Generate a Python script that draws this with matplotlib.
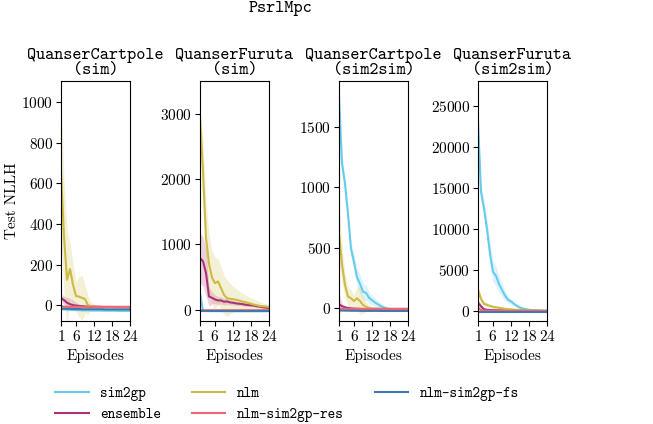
import numpy as np
import matplotlib
matplotlib.use("Agg")
import matplotlib.pyplot as plt

plt.rcParams["font.family"] = ["cmr10", "DejaVu Serif"]
plt.rcParams["axes.formatter.use_mathtext"] = True
plt.rcParams["mathtext.fontset"] = "cm"

episodes = np.arange(1, 25)
xticks = [1, 6, 12, 18, 24]
series_names = ["sim2gp", "ensemble", "nlm", "nlm-sim2gp-res", "nlm-sim2gp-fs"]
series_colors = ["#66CCEE", "#AA3377", "#CCBB44", "#EE6677", "#4477AA"]
panel_titles = ["QuanserCartpole\n(sim)", "QuanserFuruta\n(sim)",
                "QuanserCartpole\n(sim2sim)", "QuanserFuruta\n(sim2sim)"]

# ---- QuanserCartpole (sim)
cp_sim_sim2gp = [-20, -21, -22, -23, -23, -24, -24, -25, -25, -25, -26, -26, -26, -26, -27, -27, -27, -27, -27, -28, -28, -28, -28, -28]
cp_sim_sim2gp_sd = [5] * 24
cp_sim_ensemble = [35, 25, 12, 5, 0, -2, -4, -5, -6, -7, -7, -8, -8, -8, -9, -9, -9, -9, -10, -10, -10, -10, -10, -10]
cp_sim_ensemble_sd = [20, 20, 25, 30, 25, 15, 10, 5, 4, 3, 3, 3, 3, 3, 3, 3, 3, 3, 3, 3, 3, 3, 3, 3]
cp_sim_nlm = [660, 340, 125, 178, 100, 45, 42, 36, 30, 0, -5, -7, -8, -9, -9, -10, -10, -10, -10, -10, -10, -10, -10, -10]
cp_sim_nlm_sd = [340, 280, 250, 130, 110, 70, 100, 110, 70, 45, 20, 10, 6, 5, 4, 4, 3, 3, 3, 3, 3, 3, 3, 3]
cp_sim_res = [-6, -7, -8, -8, -8, -8, -8, -8, -8, -8, -8, -8, -8, -8, -8, -8, -8, -8, -8, -8, -8, -8, -8, -8]
cp_sim_res_sd = [3] * 24
cp_sim_fs = [-16, -17, -18, -18, -19, -19, -19, -20, -20, -20, -20, -20, -20, -20, -20, -21, -21, -21, -21, -21, -21, -21, -21, -21]
cp_sim_fs_sd = [2] * 24

# ---- QuanserFuruta (sim)
fu_sim_sim2gp = [250, -20, -22, -23, -23, -24, -24, -24, -24, -25, -25, -25, -25, -25, -25, -25, -25, -25, -25, -25, -25, -25, -25, -25]
fu_sim_sim2gp_sd = [80, 5, 5, 5, 5, 5, 5, 5, 5, 5, 5, 5, 5, 5, 5, 5, 5, 5, 5, 5, 5, 5, 5, 5]
fu_sim_ensemble = [790, 740, 560, 200, 180, 155, 140, 140, 120, 125, 110, 105, 95, 90, 85, 75, 70, 65, 60, 50, 45, 35, 30, 25]
fu_sim_ensemble_sd = [380, 380, 350, 150, 90, 70, 60, 55, 50, 45, 40, 35, 30, 30, 25, 25, 20, 20, 20, 15, 15, 15, 15, 15]
fu_sim_nlm = [2950, 2100, 1100, 700, 490, 405, 430, 330, 225, 175, 165, 160, 150, 140, 125, 115, 100, 90, 75, 65, 55, 50, 45, 40]
fu_sim_nlm_sd = [100, 500, 550, 450, 420, 400, 350, 330, 300, 280, 240, 200, 170, 150, 130, 120, 100, 90, 80, 70, 60, 50, 45, 40]
fu_sim_res = [-8, -9, -10, -10, -10, -10, -10, -10, -10, -10, -10, -10, -10, -10, -10, -10, -10, -10, -10, -10, -10, -10, -10, -10]
fu_sim_res_sd = [3] * 24
fu_sim_fs = [-25, -25, -25, -25, -25, -25, -25, -25, -25, -25, -25, -25, -25, -25, -25, -25, -25, -25, -25, -25, -25, -25, -25, -25]
fu_sim_fs_sd = [3] * 24

# ---- QuanserCartpole (sim2sim)
cp_s2s_sim2gp = [1750, 1200, 1030, 780, 490, 380, 255, 200, 135, 125, 85, 65, 45, 30, 15, 3, -5, -8, -10, -10, -12, -12, -12, -12]
cp_s2s_sim2gp_sd = [60, 60, 60, 60, 60, 60, 70, 80, 70, 60, 50, 40, 35, 30, 25, 20, 15, 10, 8, 6, 5, 5, 5, 5]
cp_s2s_ensemble = [30, 15, 5, 0, -3, -5, -6, -7, -8, -8, -8, -8, -8, -8, -8, -8, -8, -8, -8, -8, -8, -8, -8, -8]
cp_s2s_ensemble_sd = [90, 20, 15, 10, 5, 4, 3, 3, 3, 3, 3, 3, 3, 3, 3, 3, 3, 3, 3, 3, 3, 3, 3, 3]
cp_s2s_nlm = [620, 360, 190, 95, 80, 58, 80, 58, 25, 10, 0, -5, -6, -7, -8, -8, -8, -8, -8, -8, -8, -8, -8, -8]
cp_s2s_nlm_sd = [240, 150, 100, 80, 70, 50, 100, 110, 70, 40, 25, 20, 15, 15, 12, 10, 10, 8, 6, 5, 5, 5, 5, 5]
cp_s2s_res = [-5, -6, -7, -8, -8, -8, -8, -8, -8, -8, -8, -8, -8, -8, -8, -8, -8, -8, -8, -8, -8, -8, -8, -8]
cp_s2s_res_sd = [4] * 24
cp_s2s_fs = [-20, -21, -22, -22, -23, -23, -23, -24, -24, -24, -24, -24, -24, -24, -25, -25, -25, -25, -25, -25, -25, -25, -25, -25]
cp_s2s_fs_sd = [3] * 24

# ---- QuanserFuruta (sim2sim)
fu_s2s_sim2gp = [23200, 14500, 12500, 10000, 7000, 4800, 4300, 3300, 2600, 1900, 1400, 1200, 900, 650, 450, 330, 250, 180, 140, 110, 90, 70, 60, 50]
fu_s2s_sim2gp_sd = [600, 800, 1000, 1200, 1400, 1300, 1200, 1000, 800, 600, 400, 300, 250, 200, 150, 100, 80, 60, 50, 40, 30, 30, 30, 30]
fu_s2s_ensemble = [1050, 600, 250, 180, 150, 130, 120, 110, 100, 90, 85, 80, 75, 70, 65, 60, 55, 50, 50, 45, 45, 40, 40, 40]
fu_s2s_ensemble_sd = [400, 300, 150, 100, 80, 60, 50, 40, 40, 30, 30, 30, 30, 30, 30, 30, 30, 30, 30, 30, 30, 30, 30, 30]
fu_s2s_nlm = [2600, 1500, 900, 780, 650, 550, 480, 420, 360, 300, 260, 230, 200, 170, 150, 130, 120, 110, 100, 90, 80, 70, 60, 55]
fu_s2s_nlm_sd = [500, 400, 300, 250, 200, 180, 160, 140, 120, 100, 90, 80, 70, 60, 50, 45, 40, 35, 30, 30, 30, 30, 30, 30]
fu_s2s_res = [400, 150, 80, 70, 60, 55, 50, 50, 50, 50, 50, 50, 50, 50, 50, 50, 50, 50, 50, 50, 50, 50, 50, 50]
fu_s2s_res_sd = [200, 100, 50, 40, 30, 30, 30, 30, 30, 30, 30, 30, 30, 30, 30, 30, 30, 30, 30, 30, 30, 30, 30, 30]
fu_s2s_fs = [-30, -30, -30, -30, -30, -30, -30, -30, -30, -30, -30, -30, -30, -30, -30, -30, -30, -30, -30, -30, -30, -30, -30, -30]
fu_s2s_fs_sd = [10] * 24

panels = [
    [(cp_sim_sim2gp, cp_sim_sim2gp_sd), (cp_sim_ensemble, cp_sim_ensemble_sd), (cp_sim_nlm, cp_sim_nlm_sd),
     (cp_sim_res, cp_sim_res_sd), (cp_sim_fs, cp_sim_fs_sd)],
    [(fu_sim_sim2gp, fu_sim_sim2gp_sd), (fu_sim_ensemble, fu_sim_ensemble_sd), (fu_sim_nlm, fu_sim_nlm_sd),
     (fu_sim_res, fu_sim_res_sd), (fu_sim_fs, fu_sim_fs_sd)],
    [(cp_s2s_sim2gp, cp_s2s_sim2gp_sd), (cp_s2s_ensemble, cp_s2s_ensemble_sd), (cp_s2s_nlm, cp_s2s_nlm_sd),
     (cp_s2s_res, cp_s2s_res_sd), (cp_s2s_fs, cp_s2s_fs_sd)],
    [(fu_s2s_sim2gp, fu_s2s_sim2gp_sd), (fu_s2s_ensemble, fu_s2s_ensemble_sd), (fu_s2s_nlm, fu_s2s_nlm_sd),
     (fu_s2s_res, fu_s2s_res_sd), (fu_s2s_fs, fu_s2s_fs_sd)],
]
ylims = [(-78, 1104), (-175, 3500), (-108, 1883), (-1185, 28000)]
yticks = [[0, 200, 400, 600, 800, 1000], [0, 1000, 2000, 3000],
          [0, 500, 1000, 1500], [0, 5000, 10000, 15000, 20000, 25000]]

W, H = 653, 424
fig = plt.figure(figsize=(W / 100, H / 100), dpi=100)
lefts = [61, 200, 339, 478]
ax_w, top, bottom = 69, 81, 321

TITLE_FONT = ["cmtt10", "DejaVu Sans Mono"]
handles = []
for i, left in enumerate(lefts):
    ax = fig.add_axes([left / W, 1 - bottom / H, ax_w / W, (bottom - top) / H])
    for j, (mean, sd) in enumerate(panels[i]):
        m = np.array(mean, dtype=float)
        s = np.array(sd, dtype=float)
        ax.fill_between(episodes, m - s, m + s, color=series_colors[j], alpha=0.22, linewidth=0)
        ln, = ax.plot(episodes, m, color=series_colors[j], lw=1.5, label=series_names[j])
        if i == 0:
            handles.append(ln)
    ax.set_xlim(1, 24)
    ax.set_ylim(*ylims[i])
    ax.set_xticks(xticks)
    ax.set_yticks(yticks[i])
    ax.tick_params(labelsize=11, length=3.5, width=0.8, pad=2)
    ax.set_xlabel("Episodes", fontsize=11, labelpad=4)
    ax.set_title(panel_titles[i], family=TITLE_FONT, fontsize=12.5, pad=5, linespacing=1.05)
    for sp in ax.spines.values():
        sp.set_linewidth(0.8)
    if i == 0:
        ax.set_ylabel("Test NLLH", fontsize=11, labelpad=1.8)

fig.text(280 / W, 1 - 9 / H, "PsrlMpc", family=TITLE_FONT, fontsize=12.5, ha="center", va="center")

fig.legend(handles=handles, labels=series_names, loc="upper left",
           bbox_to_anchor=(55 / W, 1 - 387 / H), ncol=3, frameon=False,
           prop={"family": TITLE_FONT, "size": 10.5}, handlelength=2.3, handletextpad=0.8,
           columnspacing=2.1, borderpad=0, borderaxespad=0, labelspacing=0.45)

fig.savefig("out.png", dpi=100)
